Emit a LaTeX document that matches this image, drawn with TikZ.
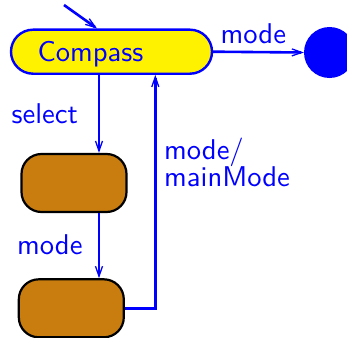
\documentclass[tikz,border=0pt]{standalone}
\usetikzlibrary{arrows.meta}
% sans face at its 10pt design, scaled up
\font\statefont="[lmsans10-regular.otf]" at 28.6pt
\definecolor{stateorange}{RGB}{200,125,14}
\tikzset{
  flow/.style={draw=blue, line width=2.6pt, -{Straight Barb[length=10pt,width=7pt,line width=1.3pt]}},
  lbl/.style={text=blue, font=\statefont, inner sep=0pt, anchor=base west},
  mainstate/.style={draw=blue, fill=yellow, line width=2.4pt, rounded corners=22pt,
    minimum width=201pt, minimum height=44pt, text width=148pt, align=left,
    inner xsep=26.5pt, inner ysep=0pt, text height=20pt, text depth=0pt,
    text=blue, font=\statefont},
  substate/.style={draw=black, fill=stateorange, line width=2.2pt, rounded corners=20pt,
    minimum width=105pt, minimum height=58pt, inner sep=0pt},
  final/.style={circle, fill=blue, minimum size=51pt, inner sep=0pt}
}
\begin{document}
\begin{tikzpicture}[x=1pt,y=-1pt]
  \useasboundingbox (0,0) rectangle (347,337);
  % states
  \node[mainstate] (compass) at (111.5,51.7) {Compass};
  \node[final] (end) at (329.5,52.5) {};
  \node[substate] (sub1) at (74,183) {};
  \node[substate] (sub2) at (71.3,308.3) {};
  % anchor points on the state borders
  \coordinate (init) at (64,5);
  \coordinate (inTop) at ([xshift=-14.5pt]compass.north);
  \coordinate (selOut) at ([xshift=-12.5pt]compass.south);
  \coordinate (selIn) at ([xshift=25pt]sub1.north);
  \coordinate (modeOut) at ([xshift=25pt]sub1.south);
  \coordinate (modeIn) at ([xshift=27.7pt]sub2.north);
  \coordinate (corner) at (155.3,308.3);
  \coordinate (backIn) at ([xshift=43.8pt]compass.south);
  % transitions
  \draw[flow] (init) -- (inTop);
  \draw[flow] (compass.east) -- (end.west);
  \draw[flow] (selOut) -- (selIn);
  \draw[flow] (modeOut) -- (modeIn);
  \draw[flow] (sub2.east) -- (corner) -- (backIn);
  % labels
  \node[lbl] (lmode) at (220.5,44) {mode};
  \node[lbl] (lselect) at (11.5,123.3) {select};
  \node[lbl] (lmode2) at (17,254.3) {mode};
  \node[lbl] (lmode3) at (164,159.3) {mode/};
  \node[lbl] (lmain) at (164,186.7) {mainMode};
\end{tikzpicture}
\end{document}
